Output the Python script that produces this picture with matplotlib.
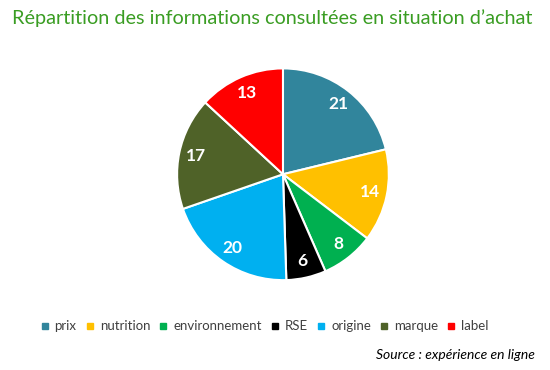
import matplotlib.pyplot as plt
from matplotlib.lines import Line2D

plt.rcParams['font.family'] = ['Lato', 'DejaVu Sans']

categories = ["prix", "nutrition", "environnement", "RSE", "origine", "marque", "label"]
values = [21, 14, 8, 6, 20, 17, 13]
colors = ["#31859C", "#FFC000", "#00B050", "#000000", "#00B0F0", "#4F6228", "#FF0000"]

fig = plt.figure(figsize=(5.5, 3.7), dpi=100)
ax = fig.add_axes([0.32, 0.24, 0.389, 0.578])

wedges, texts = ax.pie(values, colors=colors, startangle=90, counterclock=False,
                       labels=[str(v) for v in values], labeldistance=0.84,
                       wedgeprops=dict(edgecolor="white", linewidth=1.5))
for t in texts:
    t.set_color("white")
    t.set_fontweight("bold")
    t.set_fontsize(12.5)
    t.set_ha("center")
    t.set_va("center")
ax.set_xlim(-1.01, 1.01)
ax.set_ylim(-1.01, 1.01)
ax.set_aspect("equal")

fig.text(0.022, 0.952, "Répartition des informations consultées en situation d\u2019achat",
         color="#3A9D23", fontsize=14.3, ha="left", va="center")

handles = [Line2D([0], [0], marker="s", linestyle="", markersize=5,
                  markerfacecolor=c, markeredgecolor=c) for c in colors]
fig.legend(handles, categories, loc="center", bbox_to_anchor=(0.482, 0.118), ncol=7,
           frameon=False, fontsize=9.5, handlelength=0.5, handletextpad=0.5,
           columnspacing=0.75, labelcolor="#404040")

fig.text(0.973, 0.04, "Source : expérience en ligne", fontsize=10, style="italic",
         ha="right", va="center", color="black")

fig.savefig("out.png", dpi=100)
